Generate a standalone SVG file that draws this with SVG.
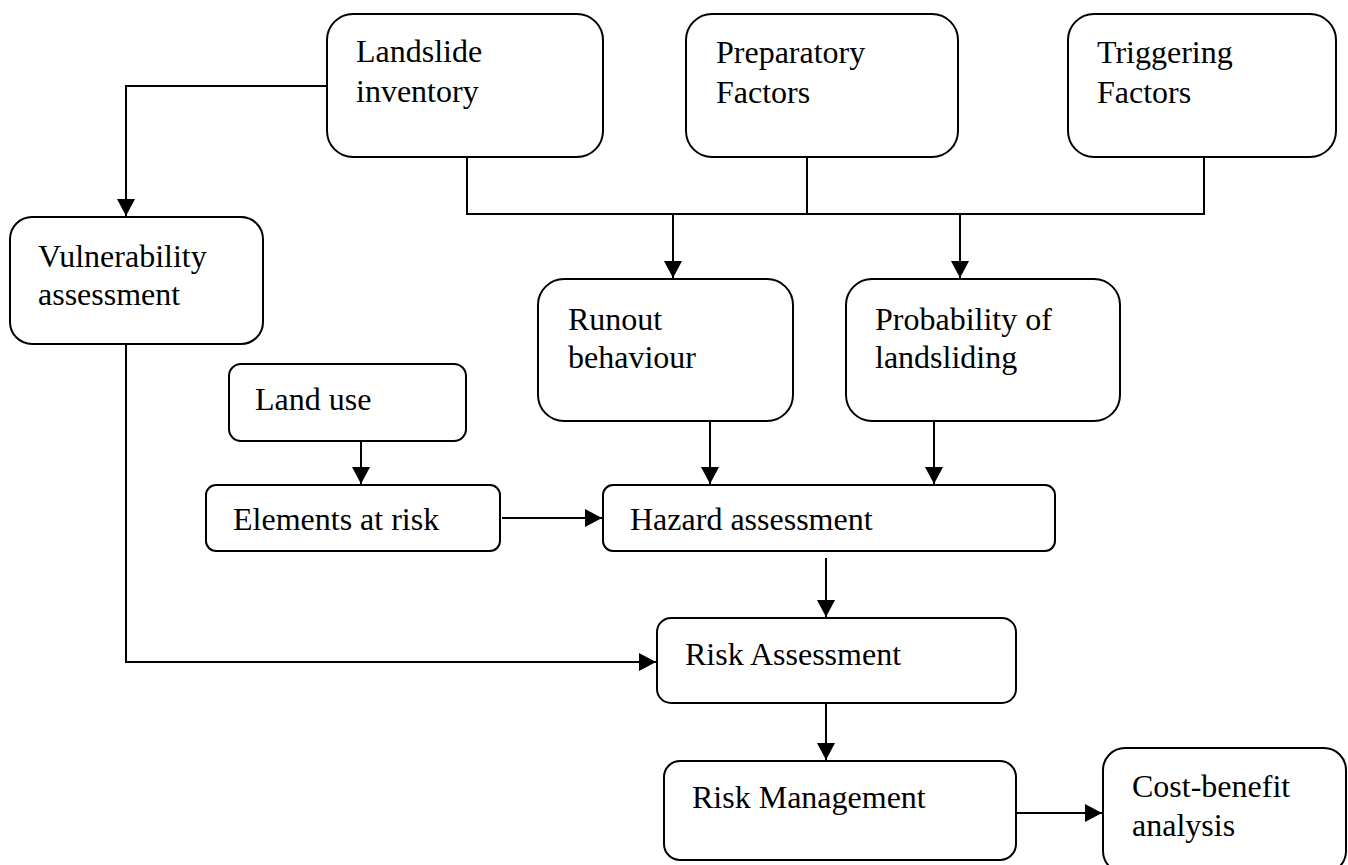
<svg xmlns="http://www.w3.org/2000/svg" width="1348" height="865" viewBox="0 0 1348 865">
<style>
.box{fill:#fff;stroke:#000;stroke-width:2}
.t{font-family:"Liberation Serif","Times New Roman",serif;font-size:32px;fill:#000}
.c{fill:none;stroke:#000;stroke-width:2}
</style>
<defs>
<marker id="ah" markerUnits="userSpaceOnUse" markerWidth="17" markerHeight="18" viewBox="0 0 17 18" refX="17" refY="9" orient="auto">
<path d="M0,0 L17,9 L0,18 Z" fill="#000"/>
</marker>
</defs>
<rect width="1348" height="865" fill="#fff"/>
<g id="connectors">
<path class="c" d="M327,86 H126 V216" marker-end="url(#ah)"/>
<path class="c" d="M467,157 V214 H1204 V157"/>
<path class="c" d="M807,157 V214"/>
<path class="c" d="M673,214 V278" marker-end="url(#ah)"/>
<path class="c" d="M960,214 V278" marker-end="url(#ah)"/>
<path class="c" d="M710,421 V484" marker-end="url(#ah)"/>
<path class="c" d="M934,421 V484" marker-end="url(#ah)"/>
<path class="c" d="M361,441 V484" marker-end="url(#ah)"/>
<path class="c" d="M502,518 H602" marker-end="url(#ah)"/>
<path class="c" d="M826,558 V617" marker-end="url(#ah)"/>
<path class="c" d="M126,344 V662 H656" marker-end="url(#ah)"/>
<path class="c" d="M826,703 V760" marker-end="url(#ah)"/>
<path class="c" d="M1016,813 H1102" marker-end="url(#ah)"/>
</g>
<g id="landslide-inventory">
<rect class="box" x="327" y="14" width="276" height="143" rx="26"/>
<text class="t" x="356" y="62">Landslide</text>
<text class="t" x="356" y="102">inventory</text>
</g>
<g id="preparatory-factors">
<rect class="box" x="686" y="14" width="272" height="143" rx="26"/>
<text class="t" x="716" y="63">Preparatory</text>
<text class="t" x="716" y="103">Factors</text>
</g>
<g id="triggering-factors">
<rect class="box" x="1068" y="14" width="268" height="143" rx="26"/>
<text class="t" x="1097" y="63">Triggering</text>
<text class="t" x="1097" y="103">Factors</text>
</g>
<g id="vulnerability-assessment">
<rect class="box" x="10" y="217" width="253" height="127" rx="22"/>
<text class="t" x="38" y="267">Vulnerability</text>
<text class="t" x="38" y="305">assessment</text>
</g>
<g id="runout-behaviour">
<rect class="box" x="538" y="279" width="255" height="142" rx="26"/>
<text class="t" x="568" y="330">Runout</text>
<text class="t" x="568" y="368">behaviour</text>
</g>
<g id="probability-of-landsliding">
<rect class="box" x="846" y="279" width="274" height="142" rx="26"/>
<text class="t" x="875" y="330">Probability of</text>
<text class="t" x="875" y="368">landsliding</text>
</g>
<g id="land-use">
<rect class="box" x="229" y="364" width="237" height="77" rx="12"/>
<text class="t" x="255" y="410">Land use</text>
</g>
<g id="elements-at-risk">
<rect class="box" x="206" y="485" width="294" height="66" rx="10"/>
<text class="t" x="233" y="530">Elements at risk</text>
</g>
<g id="hazard-assessment">
<rect class="box" x="603" y="485" width="452" height="66" rx="10"/>
<text class="t" x="630" y="530">Hazard assessment</text>
</g>
<g id="risk-assessment">
<rect class="box" x="657" y="618" width="359" height="85" rx="14"/>
<text class="t" x="685" y="665">Risk Assessment</text>
</g>
<g id="risk-management">
<rect class="box" x="664" y="761" width="352" height="99" rx="16"/>
<text class="t" x="692" y="808">Risk Management</text>
</g>
<g id="cost-benefit-analysis">
<rect class="box" x="1103" y="748" width="243" height="125" rx="22"/>
<text class="t" x="1132" y="797">Cost-benefit</text>
<text class="t" x="1132" y="836">analysis</text>
</g>
</svg>
